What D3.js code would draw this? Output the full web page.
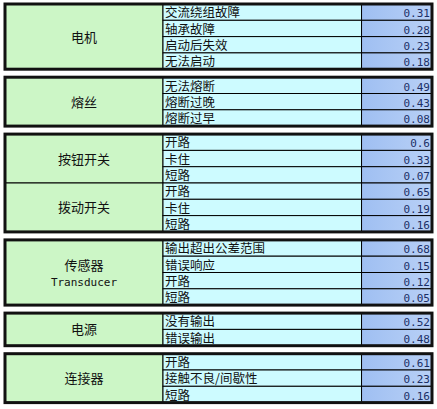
<!DOCTYPE html>
<html><head><meta charset="utf-8">
<script src="https://cdn.jsdelivr.net/npm/d3@7"></script>
<style>body{margin:0;background:#fff}</style>
</head><body>
<svg id="chart" width="437" height="409"></svg>
<script>
// blocks of rows; each block may hold several categories
const blocks = [[0], [1], [2, 3], [4], [5], [6]];
const categories = ["电机", "熔丝", "按钮开关", "拨动开关", "传感器\nTransducer", "电源", "连接器"];
const items = [
  ["交流绕组故障", "轴承故障", "启动后失效", "无法启动"],
  ["无法熔断", "熔断过晚", "熔断过早"],
  ["开路", "卡住", "短路"],
  ["开路", "卡住", "短路"],
  ["输出超出公差范围", "错误响应", "开路", "短路"],
  ["没有输出", "错误输出"],
  ["开路", "接触不良/间歇性", "短路"]
];
const values = [
  ["0.31", "0.28", "0.23", "0.18"],
  ["0.49", "0.43", "0.08"],
  ["0.6", "0.33", "0.07"],
  ["0.65", "0.19", "0.16"],
  ["0.68", "0.15", "0.12", "0.05"],
  ["0.52", "0.48"],
  ["0.61", "0.23", "0.16"]
];

const svg = d3.select("#chart");
const rowH = 16.3, gap = 8, startY = 4;
const x = d3.scaleLinear().domain([0, 1]).range([5, 432]);
const col = [0, 0.37, 0.835, 1];

const defs = svg.append("defs");
const g = defs.append("linearGradient").attr("id", "vg").attr("x1", 0).attr("x2", 1);
g.append("stop").attr("offset", 0).attr("stop-color", "#9fbff2");
g.append("stop").attr("offset", 1).attr("stop-color", "#b8d0f6");

let y = startY;
const font = "'Noto Sans CJK SC', sans-serif";
blocks.forEach(b => {
  const y0 = y;
  b.forEach(ci => {
    const n = items[ci].length;
    const yc = y;
    svg.append("rect").attr("x", x(col[0])).attr("y", yc).attr("width", x(col[1]) - x(col[0])).attr("height", n * rowH)
      .attr("fill", "#ccf6c6").attr("stroke", "#000").attr("stroke-width", 1);
    const lines = categories[ci].split("\n");
    lines.forEach((t, li) => {
      svg.append("text").attr("x", (x(col[0]) + x(col[1])) / 2)
        .attr("y", yc + n * rowH / 2 + (li - (lines.length - 1) / 2) * 16 + 5)
        .attr("text-anchor", "middle").attr("font-family", li ? "'DejaVu Sans Mono', monospace" : font)
        .attr("font-size", li ? 11 : 13).attr("fill", "#111").text(t);
    });
    items[ci].forEach((it, i) => {
      const yr = yc + i * rowH;
      svg.append("rect").attr("x", x(col[1])).attr("y", yr).attr("width", x(col[2]) - x(col[1])).attr("height", rowH)
        .attr("fill", "#cdfbff").attr("stroke", "#000").attr("stroke-width", 1);
      svg.append("rect").attr("x", x(col[2])).attr("y", yr).attr("width", x(col[3]) - x(col[2])).attr("height", rowH)
        .attr("fill", "url(#vg)").attr("stroke", "#000").attr("stroke-width", 1);
      svg.append("text").attr("x", x(col[1]) + 2).attr("y", yr + rowH - 3)
        .attr("font-family", font).attr("font-size", 12.5).attr("fill", "#111").text(it);
      svg.append("text").attr("x", x(col[3]) - 2).attr("y", yr + rowH - 3).attr("text-anchor", "end")
        .attr("font-family", "'DejaVu Sans Mono', monospace").attr("font-size", 11).attr("fill", "#1c2f66").text(values[ci][i]);
    });
    y += n * rowH;
  });
  svg.append("rect").attr("x", x(0)).attr("y", y0).attr("width", x(1) - x(0)).attr("height", y - y0)
    .attr("fill", "none").attr("stroke", "#111").attr("stroke-width", 3);
  y += gap;
});
</script>
</body></html>
